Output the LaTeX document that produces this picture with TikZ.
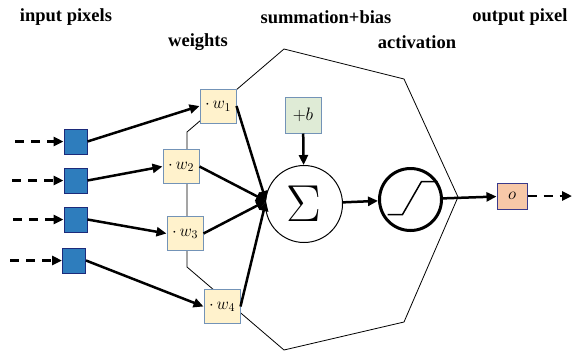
\documentclass[tikz,border=0pt]{standalone}
\usepackage{fix-cm}
\usepackage{fontspec}
\setmainfont{Liberation Serif}[BoldFont={Liberation Serif Bold}]
\newfontfamily\headfont{Liberation Serif Bold}
\usetikzlibrary{arrows.meta}
\definecolor{pixblue}{HTML}{2E7DBD}
\definecolor{pixedge}{HTML}{1C2A7A}
\definecolor{wfill}{HTML}{FFF2CC}
\definecolor{wedge}{HTML}{7393B7}
\definecolor{bfill}{HTML}{DFEBD6}
\definecolor{ofill}{HTML}{F7C8A8}
\definecolor{oedge}{HTML}{3A3A8C}
\begin{document}
\begin{tikzpicture}[x=1pt,y=-1pt]
\tikzset{pixel/.style={draw=pixedge, fill=pixblue, line width=1pt, minimum width=23pt, minimum height=25pt, inner sep=0pt},
poids/.style={draw=wedge, fill=wfill, line width=1pt, minimum width=36pt, minimum height=34pt, inner sep=0pt, font=\fontsize{17}{17}\selectfont},
conn/.style={line width=2.5pt, -{Triangle[length=10pt,width=9pt]}},
feed/.style={conn, dash pattern=on 9pt off 7pt},
titre/.style={font=\headfont\fontsize{18.5}{20}\selectfont}}
\useasboundingbox (0,0) rectangle (572,351);
\draw[line width=0.8pt] (284,49) -- (404,79) -- (458,197) -- (404,322) -- (284,350) -- (187,267) -- (187,132) -- cycle;
\node[titre] (tIn) at (66,17) {input pixels};
\node[titre] (tW) at (198,42) {weights};
\node[titre] (tSum) at (326,17) {summation+bias};
\node[titre] (tAct) at (417,42) {activation};
\node[titre] (tOut) at (520,17) {output pixel};
\node[pixel] (P1) at (75.5,141.5) {};
\node[pixel] (P2) at (75.5,180.5) {};
\node[pixel] (P3) at (75.5,219.5) {};
\node[pixel] (P4) at (74,260.5) {};
\coordinate (F1) at (15,141.5);
\coordinate (F2) at (12,180.5);
\coordinate (F3) at (13,219.5);
\coordinate (F4) at (10,260.5);
\node[poids] (W1) at (218,106) {$\cdot\,w_1$};
\node[poids] (W2) at (181,166.5) {$\cdot\,w_2$};
\node[poids] (W3) at (185,233.5) {$\cdot\,w_3$};
\node[poids] (W4) at (222,306.5) {$\cdot\,w_4$};
\node[draw, circle, line width=1pt, fill=white, minimum size=77pt, inner sep=0pt, font=\fontsize{52}{52}\selectfont] (Sum) at (304,204) {$\Sigma$};
\node[draw=wedge, fill=bfill, line width=1pt, minimum size=36pt, inner sep=0pt, font=\fontsize{18}{18}\selectfont] (Bias) at (303,115) {$+b$};
\node[draw, circle, line width=3pt, minimum size=62pt, inner sep=0pt] (Act) at (410.5,199.5) {};
\node[draw=oedge, fill=ofill, line width=1pt, minimum width=30pt, minimum height=26pt, inner sep=0pt, font=\fontsize{17}{17}\selectfont] (Out) at (512,196) {$o$};
\coordinate (In) at (266,201);
\coordinate (End) at (572,196);
\draw[feed] (F1) -- (P1);
\draw[feed] (F2) -- (P2);
\draw[feed] (F3) -- (P3);
\draw[feed] (F4) -- (P4);
\draw[conn] (P1.east) -- (W1.west);
\draw[conn] (P2.east) -- (W2.west);
\draw[conn] (P3.east) -- (W3.west);
\draw[conn] (P4.east) -- (W4.west);
\draw[conn] (W1.east) -- (In);
\draw[conn] (W2.east) -- (In);
\draw[conn] (W3.east) -- (In);
\draw[conn] (W4.east) -- (In);
\draw[conn] (Bias) -- (Sum);
\draw[conn] (Sum) -- (Act);
\draw[conn] (Act) -- (Out);
\draw[feed] (Out) -- (End);
\draw[line width=1.5pt] ([shift={(-23,15)}]Act.center) -- ++(15,0) -- ++(19,-33) -- ++(16,0);
\end{tikzpicture}
\end{document}
